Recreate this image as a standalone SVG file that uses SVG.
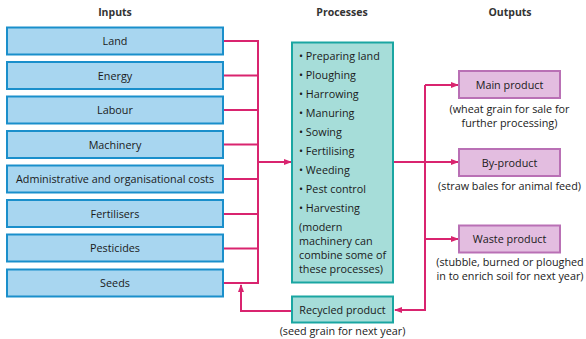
<svg xmlns="http://www.w3.org/2000/svg" width="586" height="339" viewBox="0 0 586 339">
<defs>
<style>
text{font-family:"Open Sans","Liberation Sans",sans-serif;font-size:10.8px;fill:#1a1a1a}
.c{text-anchor:middle}
.h{font-weight:bold;font-size:10.5px;fill:#333}
.in{fill:#a8d6f0;stroke:#1a8fcb;stroke-width:2}
.pr{fill:#a6ddd9;stroke:#1aa6a2;stroke-width:2}
.out{fill:#e3bde0;stroke:#b970b5;stroke-width:2}
.ln{fill:none;stroke:#d9246f;stroke-width:2}
</style>
<marker id="ah" markerWidth="8" markerHeight="6" refX="7" refY="3" orient="auto" markerUnits="userSpaceOnUse">
<path d="M0,0 L8,3 L0,6 Z" fill="#d9246f"/>
</marker>
</defs>
<rect width="586" height="339" fill="#fff"/>
<text class="h c" x="115" y="16">Inputs</text>
<text class="h c" x="342" y="16">Processes</text>
<text class="h c" x="510" y="16">Outputs</text>
<g id="connectors">
<path class="ln" d="M223,41 H258 M223,75.5 H258 M223,110 H258 M223,144.5 H258 M223,179 H258 M223,214 H258 M223,248.5 H258 M223,283 H258 M258,40 V284"/>
<path class="ln" d="M258,162 H291" marker-end="url(#ah)"/>
<path class="ln" d="M393,162 H458" marker-end="url(#ah)"/>
<path class="ln" d="M425,85 V311"/>
<path class="ln" d="M425,85 H458" marker-end="url(#ah)"/>
<path class="ln" d="M425,239 H458" marker-end="url(#ah)"/>
<path class="ln" d="M425,310 H395" marker-end="url(#ah)"/>
<path class="ln" d="M292,311 H241 V285" marker-end="url(#ah)"/>
</g>
<g id="land"><rect class="in" x="7" y="27.5" width="216" height="27"/><text class="c" x="115" y="45">Land</text></g>
<g id="energy"><rect class="in" x="7" y="62" width="216" height="27"/><text class="c" x="115" y="79.5">Energy</text></g>
<g id="labour"><rect class="in" x="7" y="96.5" width="216" height="27"/><text class="c" x="115" y="114">Labour</text></g>
<g id="machinery"><rect class="in" x="7" y="131" width="216" height="27"/><text class="c" x="115" y="148.5">Machinery</text></g>
<g id="admin"><rect class="in" x="7" y="165.5" width="216" height="27"/><text class="c" x="115" y="183">Administrative and organisational costs</text></g>
<g id="fertilisers"><rect class="in" x="7" y="200" width="216" height="27"/><text class="c" x="115" y="217.5">Fertilisers</text></g>
<g id="pesticides"><rect class="in" x="7" y="234.5" width="216" height="27"/><text class="c" x="115" y="252">Pesticides</text></g>
<g id="seeds"><rect class="in" x="7" y="269.5" width="216" height="27"/><text class="c" x="115" y="287">Seeds</text></g>
<g id="processes"><rect class="pr" x="292" y="42.5" width="101" height="240"/>
<text x="299" y="60">• Preparing land</text>
<text x="299" y="79">• Ploughing</text>
<text x="299" y="98">• Harrowing</text>
<text x="299" y="117">• Manuring</text>
<text x="299" y="136">• Sowing</text>
<text x="299" y="155">• Fertilising</text>
<text x="299" y="174">• Weeding</text>
<text x="299" y="193">• Pest control</text>
<text x="299" y="212">• Harvesting</text>
<text x="299" y="231">(modern</text>
<text x="299" y="245">machinery can</text>
<text x="299" y="259">combine some of</text>
<text x="299" y="273">these processes)</text>
</g>
<g id="recycled"><rect class="pr" x="292" y="296.5" width="101" height="26"/><text class="c" x="342.5" y="313.5">Recycled product</text>
<text class="c" x="342.5" y="335">(seed grain for next year)</text></g>
<g id="main"><rect class="out" x="459" y="71" width="101" height="27"/><text class="c" x="509.5" y="88.5">Main product</text>
<text class="c" x="509.5" y="112.5">(wheat grain for sale for</text>
<text class="c" x="509.5" y="126.5">further processing)</text></g>
<g id="byproduct"><rect class="out" x="459" y="149" width="101" height="27"/><text class="c" x="509.5" y="166.5">By-product</text>
<text class="c" x="509.5" y="190">(straw bales for animal feed)</text></g>
<g id="waste"><rect class="out" x="459" y="225.5" width="101" height="27"/><text class="c" x="509.5" y="243">Waste product</text>
<text class="c" x="510" y="265.5">(stubble, burned or ploughed</text>
<text class="c" x="510" y="279.5">in to enrich soil for next year)</text></g>
</svg>
